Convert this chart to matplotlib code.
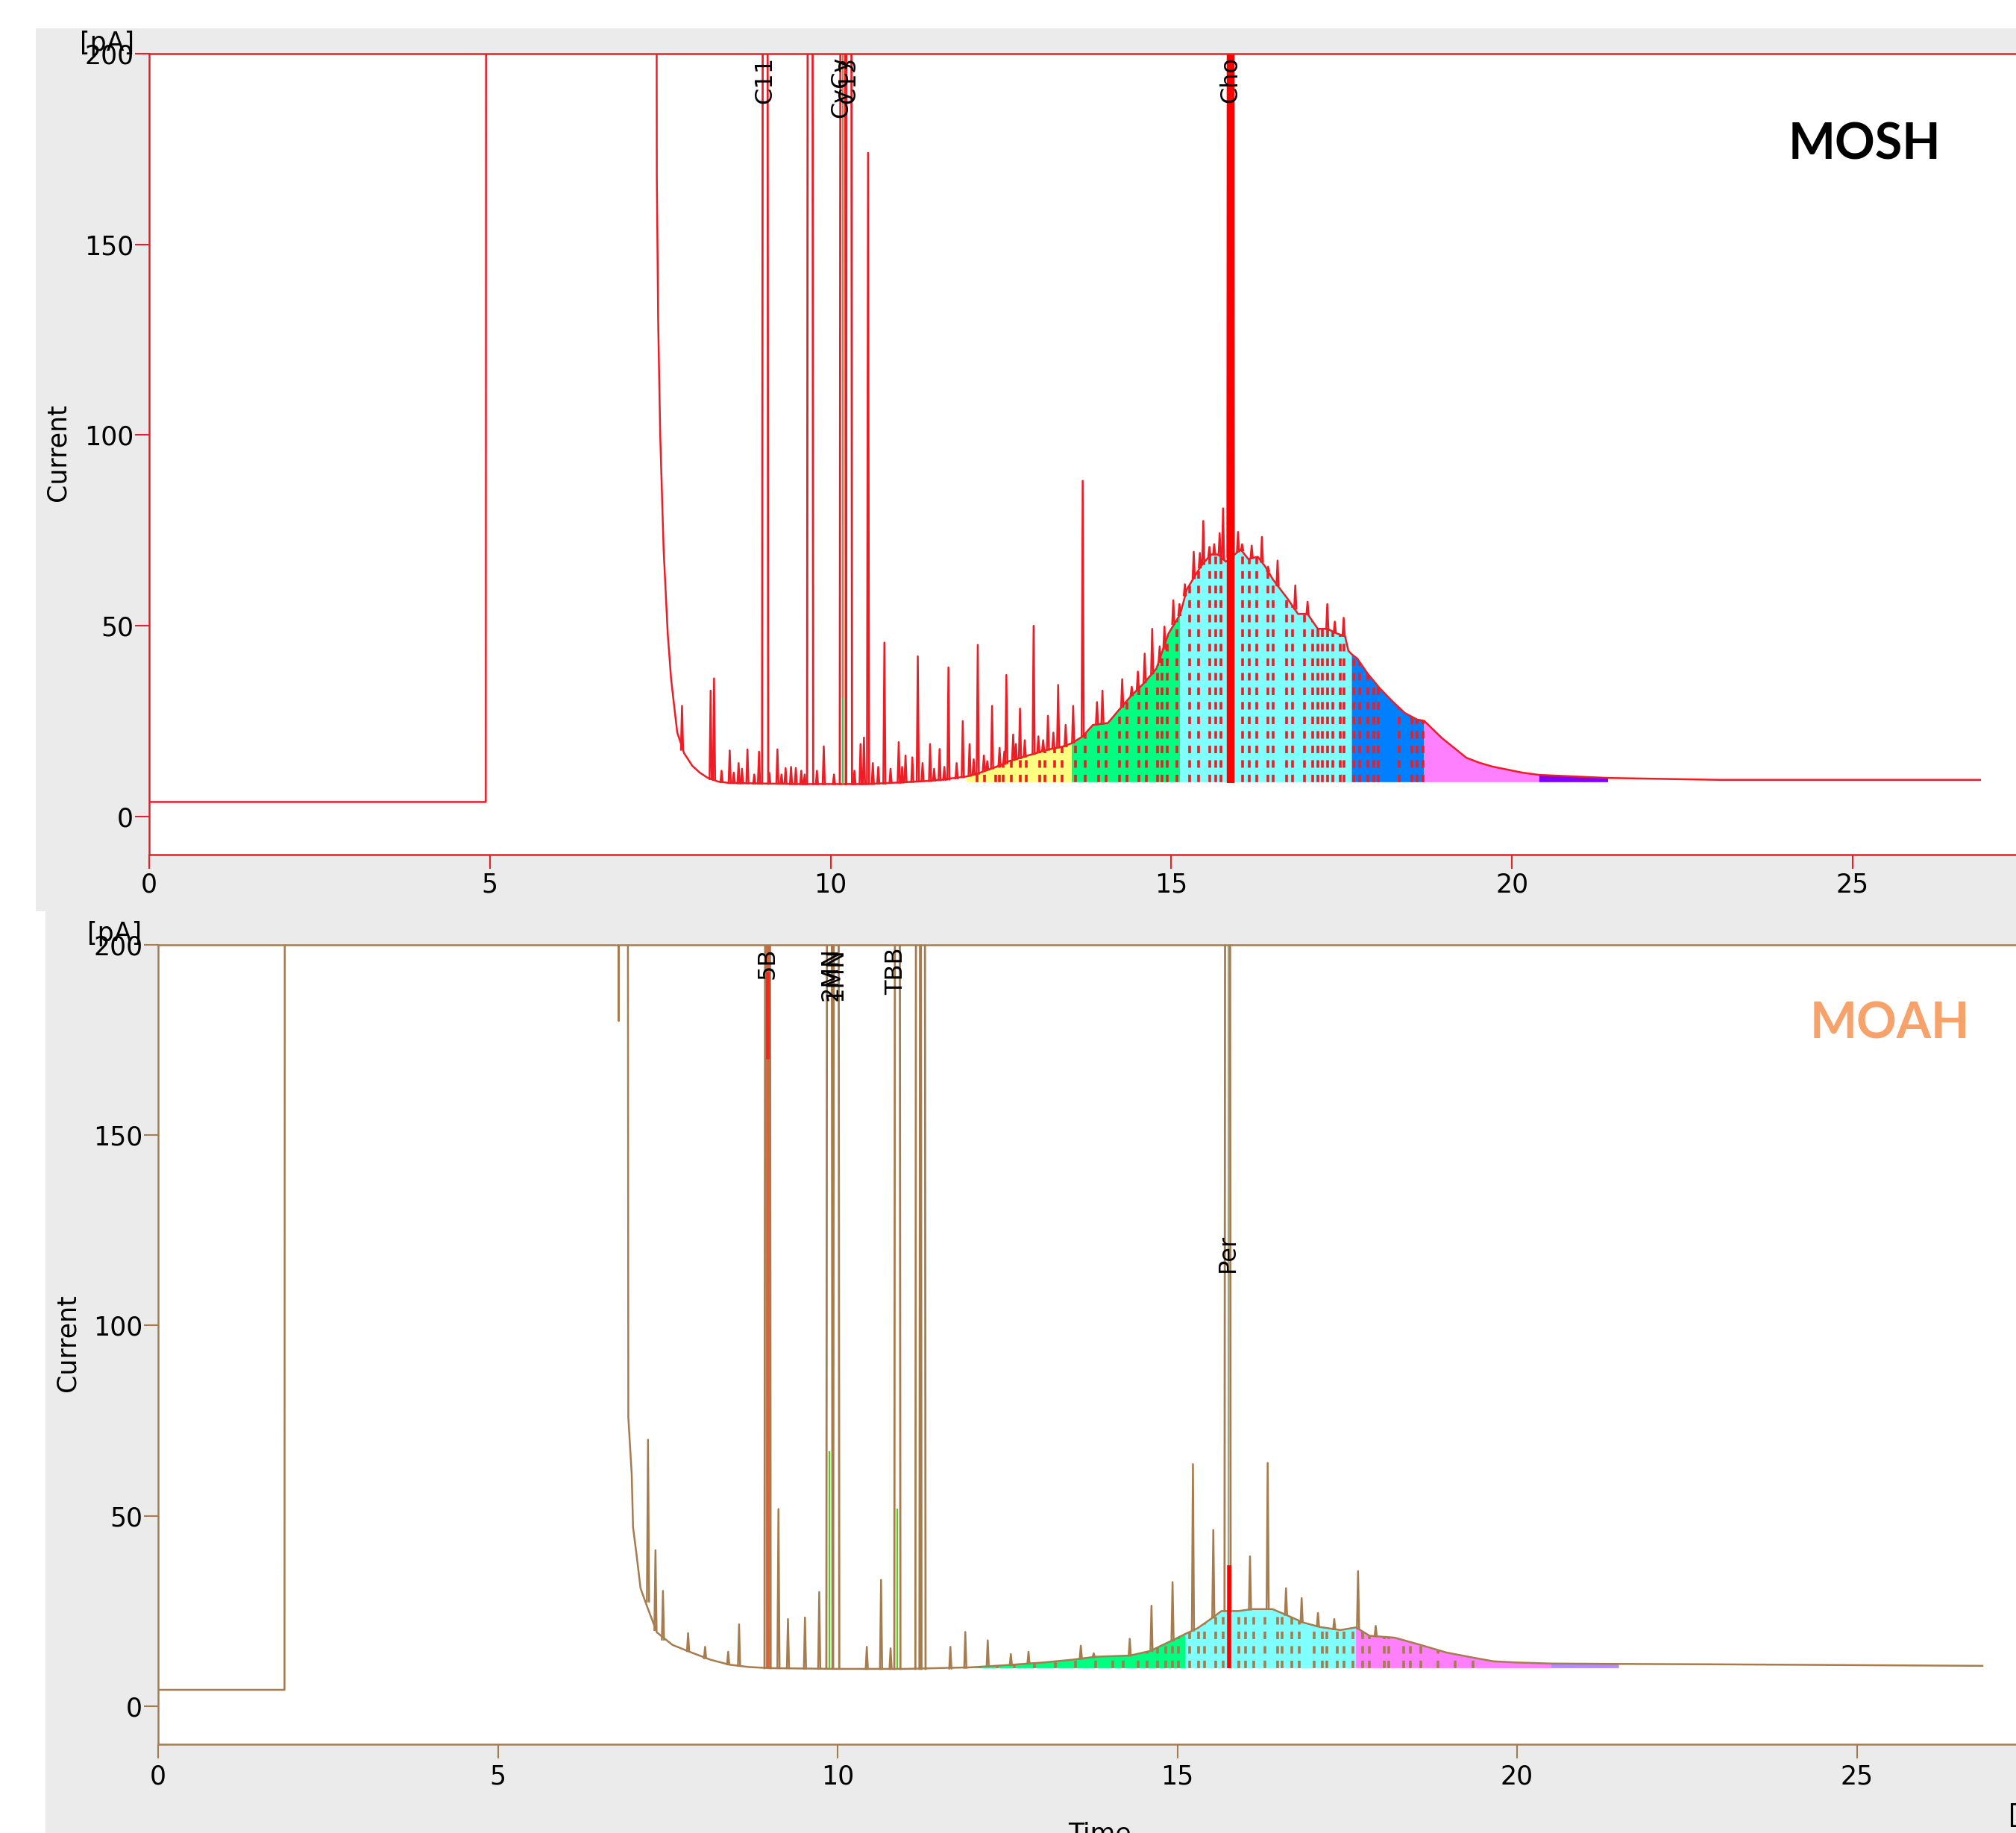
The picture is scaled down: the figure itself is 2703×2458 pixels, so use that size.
import numpy as np
import matplotlib
matplotlib.use("Agg")
import matplotlib.pyplot as plt
from matplotlib.patches import Rectangle

plt.rcParams['font.family'] = ['DejaVu Sans']

# ---------------------------------------------------------------- data
x_ticks = [0, 5, 10, 15, 20, 25]
y_ticks = [0, 50, 100, 150, 200]
OFF = 1000  # off-scale signal (clipped by the axis)

# MOSH trace: baseline / solvent / hump envelope  (time [min], current [pA])
mosh_env_t = [0.00, 4.94, 4.96, 7.40, 7.45, 7.47, 7.50, 7.55, 7.61, 7.66, 7.70, 7.75,
              7.85, 7.97, 8.08, 8.19, 8.34, 8.50, 9.50, 10.50, 11.00, 11.50, 12.00, 12.15,
              12.40, 12.62, 12.90, 13.18, 13.40, 13.54, 13.70, 13.85, 14.07, 14.23, 14.41,
              14.59, 14.78, 14.96, 15.13, 15.23, 15.43, 15.58, 15.69, 15.80, 16.02, 16.13,
              16.27, 16.38, 16.49, 16.60, 16.71, 16.86, 17.00, 17.15, 17.29, 17.44, 17.55,
              17.60, 17.65, 17.73, 17.88, 18.06, 18.24, 18.43, 18.61, 18.71, 18.97, 19.15,
              19.33, 19.52, 19.71, 20.15, 20.40, 20.78, 21.41, 23.04, 26.87]
mosh_env_v = [3.8, 3.8, OFF, OFF, 168, 130, 100, 70, 48, 36, 29.7, 22.0,
              16.6, 13.3, 11.5, 10.2, 9.2, 8.8, 8.5, 8.5, 8.9, 9.4, 10.5, 11.2,
              12.8, 14.5, 16.0, 17.5, 18.3, 19.2, 21.0, 24.0, 24.5, 27.9, 31.6,
              34.8, 38.7, 48.0, 53.0, 59.6, 65.5, 68.7, 68.7, 66.8, 70.0, 67.5,
              68.1, 65.5, 62.2, 59.6, 57.0, 53.1, 53.1, 49.2, 49.2, 47.9, 47.3,
              43.4, 42.5, 41.4, 37.5, 33.6, 30.3, 27.1, 25.4, 25.1, 20.6, 18.0,
              15.4, 14.1, 13.1, 11.5, 10.9, 10.6, 10.1, 9.6, 9.6]

# MOSH peaks: apex time, foot level, apex height
mosh_pk_t = [7.82, 8.24, 8.29, 8.40, 8.52, 8.58, 8.65, 8.70, 8.78, 8.88, 8.95, 9.10,
             9.22, 9.28, 9.34, 9.42, 9.49, 9.57, 9.62, 9.80, 9.90, 10.05, 10.35, 10.44,
             10.49, 10.55, 10.62, 10.70, 10.79, 10.88, 11.00, 11.05, 11.10, 11.20, 11.28,
             11.35, 11.46, 11.52, 11.60, 11.67, 11.73, 11.85, 11.94, 12.04, 12.10, 12.16,
             12.25, 12.30, 12.37, 12.48, 12.55, 12.58, 12.68, 12.72, 12.78, 12.85, 12.98,
             13.05, 13.12, 13.19, 13.27, 13.34, 13.45, 13.56, 13.70, 13.91, 13.99, 14.28,
             14.42, 14.51, 14.61, 14.72, 14.83, 14.90, 15.03, 15.12, 15.20, 15.33, 15.42,
             15.47, 15.56, 15.63, 15.71, 15.76, 15.98, 16.04, 16.18, 16.33, 16.42, 16.56,
             16.82, 17.00, 17.29, 17.40, 17.53]
mosh_pk_base = [17.5, 9.8, 9.6, 9.0, 8.8, 8.8, 8.7, 8.7, 8.7, 8.6, 8.6, 8.6,
                8.6, 8.6, 8.6, 8.5, 8.5, 8.5, 8.5, 8.5, 8.5, 8.5, 8.5, 8.5,
                8.5, 8.5, 8.5, 8.6, 8.6, 8.8, 8.9, 8.9, 9.0, 9.1, 9.2,
                9.3, 9.3, 9.4, 9.5, 9.6, 9.7, 10.0, 10.3, 10.7, 11.0, 11.2,
                12.0, 12.3, 12.6, 13.2, 13.8, 14.0, 14.8, 15.0, 15.3, 15.7, 16.4,
                16.8, 17.2, 17.5, 17.9, 18.1, 18.4, 19.4, 21.0, 24.2, 24.4, 28.8,
                31.8, 33.3, 35.2, 37.5, 40.5, 44.0, 50.5, 52.8, 58.0, 62.5, 65.3,
                66.2, 68.3, 68.7, 68.5, 67.5, 69.5, 69.8, 67.8, 66.8, 64.4, 60.6,
                54.5, 53.1, 49.2, 48.2, 47.4]
mosh_pk_h = [29.0, 33.0, 36.2, 12.0, 17.3, 11.5, 14.0, 12.5, 17.6, 11.0, 17.0, 11.5,
             17.6, 11.0, 12.7, 13.0, 12.7, 12.0, 11.0, 12.0, 18.4, 11.0, 12.0, 19.0,
             20.7, 174.0, 14.0, 13.0, 45.6, 12.5, 19.5, 13.0, 16.0, 15.5, 42.0,
             14.0, 19.0, 12.5, 17.7, 13.0, 39.1, 14.0, 25.0, 19.0, 15.0, 45.0,
             16.0, 14.5, 29.0, 18.0, 17.0, 37.1, 21.5, 19.0, 28.3, 20.0, 50.0,
             21.0, 20.0, 26.4, 22.0, 34.5, 24.0, 29.0, 88.0, 30.0, 33.0, 36.0,
             34.0, 38.0, 42.7, 49.2, 44.6, 49.8, 56.7, 55.7, 60.9, 69.4, 69.1,
             77.5, 70.7, 71.4, 74.3, 80.8, 74.6, 71.4, 71.0, 73.3, 65.5, 67.1,
             60.6, 56.3, 55.7, 51.1, 52.1]
# off-scale MOSH peaks
mosh_big_t = [9.04, 9.70, 10.18, 10.27, 15.87]
mosh_big_base = [8.6, 8.5, 8.5, 8.5, 68.0]

mosh_labels = ["C11", "CyCy", "C13", "Cho"]
mosh_label_t = [9.04, 10.16, 10.26, 15.87]

mosh_zone_edges = [12.00, 13.54, 15.13, 17.65, 18.71, 20.40, 21.41]
mosh_zone_colors = ['#FFFF80', '#00FF80', '#80FFFF', '#0080FF', '#FF80FF', '#8000FF']
mosh_split_t = [12.15, 12.26, 12.42, 12.48, 12.53, 12.65, 12.79, 12.87, 13.07, 13.15,
                13.29, 13.40, 13.59, 13.74, 13.93, 14.04, 14.24, 14.35, 14.52, 14.63,
                14.80, 14.86, 14.94, 15.08, 15.27, 15.40, 15.56, 15.65, 15.73, 16.05,
                16.14, 16.25, 16.42, 16.49, 16.69, 16.78, 16.95, 17.07, 17.15, 17.22,
                17.29, 17.37, 17.48, 17.53, 17.68, 17.77, 17.88, 17.97, 18.04, 18.35,
                18.53, 18.61, 18.70]
mosh_fill_base = 9.0

mosh_mark_t = [10.18, 10.18, 15.87]
mosh_mark_lo = [31.0, 8.5, 8.8]
mosh_mark_hi = [200.0, 31.0, 200.0]
mosh_mark_c = ['#D9763F', '#3CC83C', '#FF0000']

# MOAH trace
moah_env_t = [0.00, 1.86, 1.88, 6.74, 6.78, 6.80, 6.88, 6.92, 6.97, 6.99, 7.04, 7.10,
              7.18, 7.34, 7.57, 7.85, 8.13, 8.41, 8.69, 9.00, 10.00, 11.00, 11.95,
              12.50, 13.04, 13.45, 13.80, 14.30, 14.60, 14.95, 15.12, 15.30, 15.50,
              15.65, 15.90, 16.10, 16.40, 16.60, 16.85, 17.10, 17.40, 17.63, 17.83,
              18.20, 18.58, 18.96, 19.34, 19.65, 19.97, 20.50, 21.50, 22.90, 26.85]
moah_env_v = [4.3, 4.3, OFF, OFF, 180, OFF, OFF, 76, 61, 47, 40, 31,
              27, 19.4, 16.1, 14.1, 12.2, 10.9, 10.3, 10.0, 9.8, 9.8, 10.2,
              10.8, 11.5, 12.2, 13.0, 13.3, 14.5, 17.5, 19.0, 20.5, 23.0,
              25.0, 25.0, 25.5, 25.5, 24.0, 22.0, 20.8, 20.0, 20.7, 18.5,
              18.0, 16.1, 14.1, 12.8, 11.8, 11.5, 11.2, 11.1, 11.0, 10.6]

moah_pk_t = [7.21, 7.32, 7.43, 7.80, 8.05, 8.39, 8.55, 9.13, 9.27, 9.52, 9.73, 10.43,
             10.64, 10.78, 11.66, 11.88, 12.21, 12.55, 12.81, 13.58, 13.77, 14.30, 14.62,
             14.93, 15.23, 15.53, 16.07, 16.33, 16.60, 16.83, 17.07, 17.31, 17.66, 17.92]
moah_pk_base = [27.5, 20.0, 17.5, 14.5, 12.6, 11.0, 10.6, 10.0, 10.0, 9.9, 9.9, 9.8,
                9.8, 9.8, 9.9, 10.1, 10.5, 10.8, 11.2, 12.5, 12.9, 13.3, 14.5,
                17.3, 19.9, 23.3, 25.4, 25.5, 24.0, 22.0, 21.0, 20.2, 20.5, 18.4]
moah_pk_h = [70.0, 41.0, 30.3, 19.2, 15.6, 14.3, 21.5, 51.8, 22.9, 23.3, 30.0, 15.6,
             33.2, 15.2, 15.6, 19.5, 17.3, 13.7, 14.3, 15.9, 13.9, 17.7, 26.4,
             32.6, 63.6, 46.3, 39.4, 63.9, 31.0, 28.4, 24.5, 22.9, 35.5, 21.1]
moah_big_t = [8.97, 9.88, 9.98, 10.88, 11.19, 11.25, 15.74]
moah_big_base = [10.0, 9.9, 9.9, 9.8, 9.8, 9.8, 25.0]

moah_labels = ["5B", "2MN", "1MN", "TBB"]
moah_label_t = [8.97, 9.90, 9.97, 10.86]
moah_mid_label = "Per"
moah_mid_label_t = 15.75
moah_mid_label_v = 119.0

moah_zone_edges = [11.95, 15.12, 17.63, 20.50, 21.50]
moah_zone_colors = ['#00FF80', '#80FFFF', '#FF80FF', '#B58CFF']
moah_split_t = [12.10, 12.35, 12.60, 12.90, 13.20, 13.50, 13.80, 14.05, 14.20, 14.42,
                14.55, 14.71, 14.83, 14.93, 15.02, 15.18, 15.31, 15.40, 15.56, 15.68,
                15.91, 16.00, 16.13, 16.29, 16.48, 16.54, 16.69, 16.79, 17.01, 17.14,
                17.20, 17.36, 17.45, 17.58, 17.73, 17.83, 18.05, 18.11, 18.33, 18.43,
                18.58, 18.84, 19.09, 19.35]
moah_fill_base = 10.0

moah_mark_t = [8.97, 8.97, 9.88, 10.88, 15.76, 15.75]
moah_mark_lo = [10.0, 170.0, 10.0, 10.0, 10.0, 37.0]
moah_mark_hi = [200.0, 193.0, 67.0, 52.0, 37.0, 200.0]
moah_mark_c = ['#D9633A', '#FF2020', '#55CC22', '#55CC22', '#FF0000', '#9CA58C']

# ---------------------------------------------------------------- styling
W, H = 2703, 2458
DPI = 100
GRAY = '#EBEBEB'
RED = '#EE1C24'
BROWN = '#A67C4E'
TICK_FS = 25
LBL_FS = 23
LW = 1.8

fig = plt.figure(figsize=(W / DPI, H / DPI), dpi=DPI)
fig.patch.set_facecolor('white')


def px_rect(x0, y0, x1, y1, color):
    fig.add_artist(Rectangle((x0 / W, 1 - y1 / H), (x1 - x0) / W, (y1 - y0) / H,
                             transform=fig.transFigure, facecolor=color,
                             edgecolor='none', zorder=-10))


def fig_text(x, y, s, **kw):
    fig.text(x / W, 1 - y / H, s, **kw)


def add_axes_px(left, top, right, bottom):
    return fig.add_axes([left / W, 1 - bottom / H, (right - left) / W, (bottom - top) / H])


px_rect(48, 38, W, 1222, GRAY)
px_rect(61, 1222, W, H, GRAY)


def peak_polyline(ts, bs, hs, w):
    xs, ys = [], []
    for t, b, h in zip(ts, bs, hs):
        xs += [t - w, t, t + w, np.nan]
        ys += [b, h, b, np.nan]
    return np.array(xs), np.array(ys)


def draw_panel(ax, env_t, env_v, pk_t, pk_b, pk_h, big_t, big_b, edges, colors,
               split_t, fill_base, line_c, mark_t, mark_lo, mark_hi, mark_c,
               mark_w, xmax):
    env_t = np.asarray(env_t, float)
    env_v = np.asarray(env_v, float)
    ax.set_xlim(0, xmax)
    ax.set_ylim(-10, 200)
    ax.set_facecolor('white')

    # coloured integration zones
    for e0, e1, c in zip(edges[:-1], edges[1:], colors):
        m = (env_t >= e0 - 1e-9) & (env_t <= e1 + 1e-9)
        ax.fill_between(env_t[m], env_v[m], fill_base, facecolor=c,
                        edgecolor='none', zorder=1)
    # dashed splits, clipped to the filled area
    m = (env_t >= edges[0] - 1e-9) & (env_t <= edges[-1] + 1e-9)
    clip = ax.fill_between(env_t[m], env_v[m], fill_base, facecolor='none',
                           edgecolor='none', zorder=0.5)
    lc = ax.vlines(split_t, fill_base, 200, colors=line_c,
                   linestyles=[(0, (2.8, 2.6))], linewidth=2.6, zorder=1.5)
    lc.set_clip_path(clip.get_paths()[0], ax.transData)

    # trace
    ax.plot(env_t, env_v, color=line_c, lw=LW, zorder=2)
    px, py = peak_polyline(pk_t, pk_b, pk_h, 0.016)
    ax.plot(px, py, color=line_c, lw=LW, zorder=2)
    bx, by = peak_polyline(big_t, big_b, [OFF] * len(big_t), 0.045)
    ax.plot(bx, by, color=line_c, lw=2.0, zorder=2)

    for t, lo, hi, c, w in zip(mark_t, mark_lo, mark_hi, mark_c, mark_w):
        ax.vlines(t, lo, hi, colors=c, linewidth=w, zorder=2.5)

    # axes styling
    for side in ('left', 'top', 'bottom'):
        ax.spines[side].set_color(line_c)
        ax.spines[side].set_linewidth(1.8)
    ax.spines['right'].set_visible(False)
    ax.set_xticks(x_ticks)
    ax.set_yticks(y_ticks)
    ax.tick_params(axis='both', direction='out', length=14, width=1.5,
                   color=line_c, labelsize=TICK_FS, labelcolor='black')
    ax.tick_params(axis='y', pad=1)


ax1 = add_axes_px(200, 72, W, 1146)
ax2 = add_axes_px(212, 1267, W, 2339)

draw_panel(ax1, mosh_env_t, mosh_env_v, mosh_pk_t, mosh_pk_base, mosh_pk_h,
           mosh_big_t, mosh_big_base, mosh_zone_edges, mosh_zone_colors,
           mosh_split_t, mosh_fill_base, RED, mosh_mark_t, mosh_mark_lo,
           mosh_mark_hi, mosh_mark_c, [1.6, 1.6, 7.5], (W - 200) / 91.36)
ax1.tick_params(axis='x', pad=3)

draw_panel(ax2, moah_env_t, moah_env_v, moah_pk_t, moah_pk_base, moah_pk_h,
           moah_big_t, moah_big_base, moah_zone_edges, moah_zone_colors,
           moah_split_t, moah_fill_base, BROWN, moah_mark_t, moah_mark_lo,
           moah_mark_hi, moah_mark_c, [3.5, 3.5, 1.6, 1.6, 4.0, 1.6],
           (W - 212) / 91.1)
ax2.tick_params(axis='x', pad=5)

# peak labels
for ax, labs, ts in ((ax1, mosh_labels, mosh_label_t), (ax2, moah_labels, moah_label_t)):
    for s, t in zip(labs, ts):
        ax.text(t, 199.3, s, rotation=90, ha='center', va='top',
                fontsize=LBL_FS, color='black', zorder=3)
ax2.text(moah_mid_label_t, moah_mid_label_v, moah_mid_label, rotation=90,
         ha='center', va='center', fontsize=LBL_FS, color='black', zorder=3)

# axis annotations
fig_text(180, 58, '[pA]', ha='right', va='center', fontsize=TICK_FS)
fig_text(190, 1252, '[pA]', ha='right', va='center', fontsize=TICK_FS)
fig_text(78, 607, 'Current', rotation=90, ha='center', va='center', fontsize=TICK_FS)
fig_text(90, 1801, 'Current', rotation=90, ha='center', va='center', fontsize=TICK_FS)
fig_text(1474, 2443, 'Time', ha='center', va='top', fontsize=TICK_FS)
fig_text(2693, 2418, '[min]', ha='left', va='top', fontsize=TICK_FS)

fig_text(2500, 195, 'MOSH', ha='center', va='center', fontsize=48,
         fontweight='bold', family=['Lato', 'DejaVu Sans'], color='black')
fig_text(2534, 1374, 'MOAH', ha='center', va='center', fontsize=48,
         fontweight='bold', family=['Lato', 'DejaVu Sans'], color='#F7A26A')

fig.savefig('out.png', dpi=DPI)
